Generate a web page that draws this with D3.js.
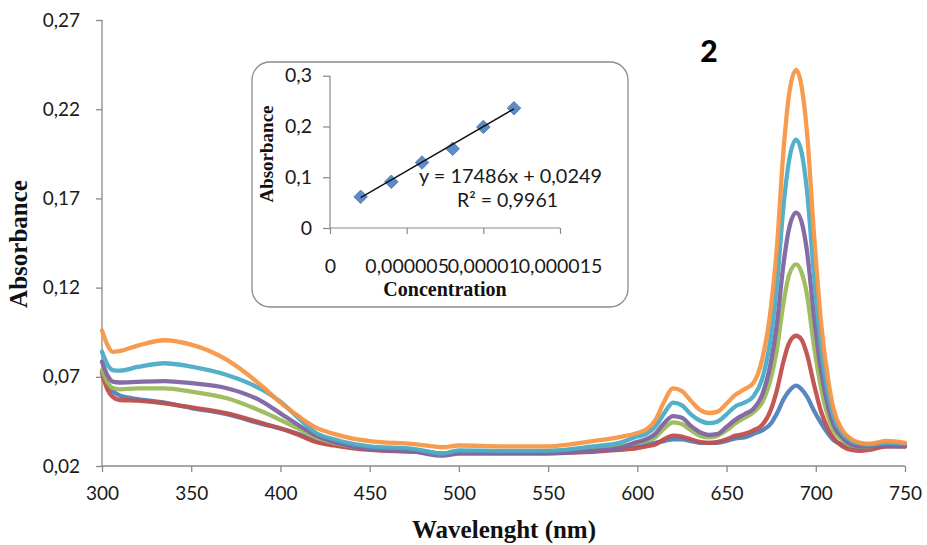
<!DOCTYPE html>
<html><head><meta charset="utf-8">
<script src="https://cdn.jsdelivr.net/npm/d3@7/dist/d3.min.js"></script>
<style>body{margin:0;background:#fff}svg{display:block}</style>
</head><body><svg id="c" width="927" height="545"></svg>
<script>
const wavelengths = [300,303,306,310,320,335,350,370,390,400, 410,420,430,440,450,475,491,500,525,550, 575,590,600,605,610,615,620,625,630,635, 640,645,650,655,660,665,670,675,678,682, 685,689,692,695,699,703,707,710,715,720, 725,730,740,750];
const seriesNames = ["s1","s2","s3","s4","s5","s6"];
const seriesColors = ["#4F81BD","#C0504D","#9BBB59","#8064A2","#4BACC6","#F79646"];
const blueVals = [0.073,0.066,0.062,0.0595,0.0575,0.0555,0.0525,0.049,0.0435,0.041, 0.038,0.034,0.032,0.0305,0.0295,0.0285,0.027,0.028,0.028,0.028, 0.0295,0.031,0.0315,0.032,0.033,0.034,0.035,0.035,0.034,0.033, 0.033,0.033,0.034,0.0355,0.036,0.038,0.040,0.044,0.049,0.0575, 0.062,0.065,0.063,0.059,0.051,0.044,0.038,0.0345,0.032,0.031, 0.0305,0.031,0.031,0.031];
const redVals = [0.072,0.063,0.0588,0.057,0.0566,0.0551,0.0529,0.0495,0.0439,0.0411, 0.0375,0.0335,0.0315,0.030,0.029,0.028,0.027,0.0275,0.0275,0.0275, 0.028,0.029,0.030,0.031,0.032,0.035,0.037,0.0365,0.035,0.0335, 0.033,0.0335,0.035,0.037,0.038,0.040,0.043,0.052,0.0617,0.079, 0.0888,0.093,0.0909,0.0828,0.0657,0.0504,0.0405,0.0355,0.031,0.029, 0.0285,0.029,0.031,0.031];
const greenVals = [0.0738,0.067,0.0637,0.063,0.0635,0.0635,0.0617,0.058,0.0504,0.0458, 0.041,0.036,0.033,0.031,0.030,0.029,0.027,0.028,0.028,0.0285, 0.0295,0.031,0.033,0.034,0.036,0.041,0.0445,0.0435,0.040,0.037, 0.036,0.037,0.040,0.044,0.047,0.050,0.0557,0.0697,0.084,0.112, 0.127,0.133,0.1286,0.1165,0.0873,0.0636,0.0475,0.040,0.0345,0.0315, 0.031,0.031,0.032,0.031];
const purpleVals = [0.0785,0.071,0.0673,0.0668,0.0672,0.0676,0.0664,0.0636,0.056,0.0495, 0.043,0.037,0.0335,0.031,0.0295,0.028,0.0258,0.027,0.027,0.027, 0.0285,0.030,0.0335,0.035,0.038,0.044,0.048,0.047,0.0425,0.039, 0.0375,0.038,0.042,0.046,0.049,0.052,0.060,0.079,0.098,0.134, 0.153,0.162,0.157,0.141,0.104,0.073,0.053,0.043,0.036,0.032, 0.031,0.031,0.0315,0.031];
const tealVals = [0.084,0.077,0.0738,0.0735,0.0755,0.0776,0.0757,0.071,0.0626,0.056, 0.047,0.0385,0.035,0.0325,0.031,0.0295,0.027,0.0288,0.0285,0.0285, 0.031,0.033,0.0365,0.038,0.042,0.0495,0.0555,0.054,0.049,0.0455, 0.044,0.045,0.049,0.0535,0.0555,0.059,0.069,0.0935,0.119,0.1665, 0.191,0.203,0.196,0.175,0.127,0.086,0.060,0.0476,0.0383,0.034, 0.0325,0.032,0.033,0.0325];
const orangeVals = [0.096,0.088,0.084,0.0845,0.0875,0.0905,0.088,0.0795,0.0645,0.0555, 0.048,0.0415,0.038,0.0355,0.034,0.0323,0.0305,0.0315,0.031,0.031, 0.034,0.0362,0.0385,0.0405,0.0455,0.056,0.0635,0.062,0.0565,0.0515, 0.0497,0.0505,0.055,0.060,0.063,0.0665,0.080,0.110,0.140,0.198, 0.228,0.242,0.233,0.208,0.150,0.100,0.068,0.052,0.040,0.035, 0.033,0.0325,0.034,0.033];
const seriesValues = [blueVals, redVals, greenVals, purpleVals, tealVals, orangeVals];
const xTicks = [300,350,400,450,500,550,600,650,700,750];
const yTicks = [0.02,0.07,0.12,0.17,0.22,0.27];
const yTickLabels = ["0,02","0,07","0,12","0,17","0,22","0,27"];
const insetConc = [2e-6,4e-6,6e-6,8e-6,10e-6,12e-6];
const insetAbs = [0.0614,0.091,0.129,0.156,0.199,0.236];
const insetXTicks = [0,5e-6,1e-5,1.5e-5];
const insetXTickLabels = ["0","0,000005","0,00001","0,000015"];
const insetYTicks = [0,0.1,0.2,0.3];
const insetYTickLabels = ["0","0,1","0,2","0,3"];
const fitSlope = 17486, fitIntercept = 0.0249;
const eqText = "y = 17486x + 0,0249";
const r2Text = "R² = 0,9961";
const title = "2";

const svg = d3.select("#c");
const sans = "Lato, 'Open Sans', sans-serif";
const serif = "'Liberation Serif', 'Times New Roman', serif";
const axisColor = "#898989";

const x = d3.scaleLinear().domain([300,750]).range([102,905]);
const y = d3.scaleLinear().domain([0.02,0.27]).range([466,20]);

// axes
const xAx = svg.append("g").attr("transform","translate(0,466)")
  .call(d3.axisBottom(x).tickValues(xTicks).tickSize(6).tickPadding(15).tickFormat(d3.format("d")));
const yAx = svg.append("g").attr("transform","translate(102,0)")
  .call(d3.axisLeft(y).tickValues(yTicks).tickSize(6).tickPadding(16).tickFormat((d,i)=>yTickLabels[i]));
[xAx,yAx].forEach(g=>{
  g.selectAll("path,line").attr("stroke",axisColor).attr("stroke-width",1.3);
  g.selectAll("text").attr("fill","#1a1a1a").style("font-family",sans).style("font-size","19px");
});
xAx.select(".domain").attr("d","M102,0H905");
yAx.select(".domain").attr("d","M0,20V466");

// lines
const line = d3.line().x((d,i)=>x(wavelengths[i])).y(d=>y(d)).curve(d3.curveMonotoneX);
seriesValues.forEach((vals,k)=>{
  svg.append("path").datum(vals).attr("d",line)
    .attr("fill","none").attr("stroke",seriesColors[k]).attr("stroke-width",4.3)
    .attr("stroke-linejoin","round").attr("stroke-linecap","round").attr("opacity",0.95);
});

// axis titles
svg.append("text").attr("x",504).attr("y",538).attr("text-anchor","middle")
  .style("font-family",serif).style("font-weight","bold").style("font-size","25px").attr("fill","#111")
  .text("Wavelenght (nm)");
svg.append("text").attr("transform","translate(27,244) rotate(-90)").attr("text-anchor","middle")
  .style("font-family",serif).style("font-weight","bold").style("font-size","25px").attr("fill","#111")
  .text("Absorbance");
svg.append("text").attr("x",709).attr("y",62).attr("text-anchor","middle")
  .style("font-family",sans).style("font-weight","900").style("font-size","30px").attr("fill","#000")
  .text(title);

// inset
const inset = svg.append("g");
inset.append("rect").attr("x",252).attr("y",62).attr("width",376).attr("height",245)
  .attr("rx",18).attr("ry",18).attr("fill","#fff").attr("stroke","#8c8c8c").attr("stroke-width",1.3);
const ix = d3.scaleLinear().domain([0,1.5e-5]).range([330,560]);
const iy = d3.scaleLinear().domain([0,0.3]).range([228,75.7]);
const ixAx = inset.append("g").attr("transform","translate(0,228)")
  .call(d3.axisBottom(ix).tickValues(insetXTicks).tickSize(6).tickPadding(25).tickFormat((d,i)=>insetXTickLabels[i]));
const iyAx = inset.append("g").attr("transform","translate(330,0)")
  .call(d3.axisLeft(iy).tickValues(insetYTicks).tickSize(7).tickPadding(11).tickFormat((d,i)=>insetYTickLabels[i]));
[ixAx,iyAx].forEach(g=>{
  g.selectAll("path,line").attr("stroke",axisColor).attr("stroke-width",1.2);
  g.selectAll("text").attr("fill","#1a1a1a").style("font-family",sans).style("font-size","19.5px");
});
ixAx.select(".domain").attr("d","M330,0H560");
iyAx.select(".domain").attr("d","M0,75.7V228");

const diamond = d3.symbol().type(d3.symbolSquare).size(92);
inset.selectAll(".pt").data(insetConc).join("path")
  .attr("d",diamond)
  .attr("transform",(d,i)=>`translate(${ix(d)},${iy(insetAbs[i])}) rotate(45)`)
  .attr("fill","#5B8BC9").attr("stroke","#4A78B0").attr("stroke-width",0.8);
const fitX = d3.extent(insetConc);
inset.append("path").datum(fitX)
  .attr("d",d3.line().x(d=>ix(d)).y(d=>iy(fitSlope*d+fitIntercept)))
  .attr("stroke","#111").attr("stroke-width",1.4).attr("fill","none");
inset.append("text").attr("x",419).attr("y",183).attr("textLength",183).attr("lengthAdjust","spacingAndGlyphs")
  .style("font-family",sans).style("font-size","19.5px").attr("fill","#1a1a1a").text(eqText);
inset.append("text").attr("x",457).attr("y",207)
  .style("font-family",sans).style("font-size","19.5px").attr("fill","#1a1a1a").text(r2Text);
inset.append("text").attr("x",445).attr("y",296).attr("text-anchor","middle")
  .style("font-family",serif).style("font-weight","bold").style("font-size","20px").attr("fill","#111")
  .text("Concentration");
inset.append("text").attr("transform","translate(273,154) rotate(-90)").attr("text-anchor","middle")
  .style("font-family",serif).style("font-weight","bold").style("font-size","19px").attr("fill","#111")
  .text("Absorbance");
</script></body></html>
